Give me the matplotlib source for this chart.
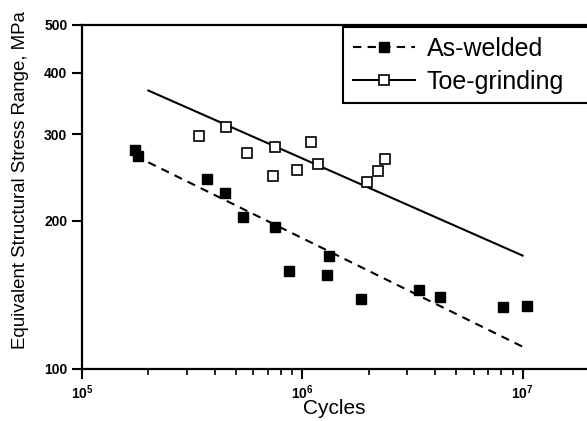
import numpy as np
import matplotlib
matplotlib.use("Agg")
import matplotlib.pyplot as plt
from matplotlib.ticker import FixedLocator, NullLocator, NullFormatter, LogFormatterMathtext

plt.rcParams["font.family"] = ["Liberation Sans", "DejaVu Sans"]

# ---- data ----
# as-welded test results (cycles, stress range MPa)
aw_cycles = [1.74e5, 1.79e5, 3.69e5, 4.48e5, 5.36e5, 7.51e5, 8.70e5,
             1.32e6, 1.30e6, 1.84e6, 3.38e6, 4.23e6, 8.17e6, 1.05e7]
aw_stress = [279, 271, 243, 228, 204, 194, 158,
             170, 155, 139, 145, 140, 133.5, 134]

# toe-grinding test results
tg_cycles = [3.39e5, 4.51e5, 5.62e5, 7.51e5, 7.36e5, 9.46e5,
             1.10e6, 1.18e6, 1.97e6, 2.21e6, 2.38e6]
tg_stress = [297, 310, 275, 283, 247, 254,
             289, 261, 240, 253, 267]

# fitted S-N curves (end points)
fit_cycles = [2.0e5, 1.0e7]
aw_fit = [263, 111]
tg_fit = [368, 170]

y_ticks = [100, 200, 300, 400, 500]

# ---- plot ----
fig = plt.figure(figsize=(5.87, 4.21), dpi=100)
ax = fig.add_axes([82 / 587, 52 / 421, 505 / 587, 344 / 421])

ax.plot(fit_cycles, aw_fit, color="black", lw=1.5, ls=(0, (4, 3)))
ax.plot(fit_cycles, tg_fit, color="black", lw=1.5)
ax.plot(aw_cycles, aw_stress, ls="none", marker="s", ms=6.5,
        mfc="black", mec="black")
ax.plot(tg_cycles, tg_stress, ls="none", marker="s", ms=6.5,
        mfc="white", mec="black", mew=1.2)

# legend proxies
h1, = ax.plot([], [], color="black", lw=1.5, ls=(0, (4, 3)), marker="s",
              ms=6.5, mfc="black", mec="black")
h2, = ax.plot([], [], color="black", lw=1.5, marker="s", ms=6.5,
              mfc="white", mec="black", mew=1.2)

ax.set_xscale("log")
ax.set_yscale("log")
ax.set_xlim(1e5, 1.96e7)
ax.set_ylim(100, 500)

ax.yaxis.set_major_locator(FixedLocator(y_ticks))
ax.yaxis.set_minor_locator(NullLocator())
ax.yaxis.set_major_formatter(plt.FixedFormatter([str(v) for v in y_ticks]))
ax.yaxis.set_minor_formatter(NullFormatter())
ax.xaxis.set_major_formatter(LogFormatterMathtext())

ax.tick_params(axis="both", which="major", direction="out", length=7, width=1.5,
               labelsize=10)
ax.tick_params(axis="x", which="minor", direction="out", length=4, width=1.2)
for lab in ax.get_yticklabels():
    lab.set_fontweight("bold")
for lab in ax.get_xticklabels():
    lab.set_fontweight("bold")

for side in ["left", "bottom", "top"]:
    ax.spines[side].set_linewidth(1.6)
ax.spines["right"].set_visible(False)

ax.set_xlabel("Cycles", fontsize=15, labelpad=-2)
ax.set_ylabel("Equivalent Structural Stress Range, MPa", fontsize=13.4)
ax.yaxis.set_label_coords(-0.105, 0.55)

# legend box runs past the right edge of the picture, as in the scan
leg = fig.legend([h1, h2], ["As-welded", "Toe-grinding"], loc="upper left",
                 bbox_to_anchor=(343 / 587, 0, 262 / 587, 1 - 27 / 421),
                 bbox_transform=fig.transFigure, mode="expand",
                 borderaxespad=0, fontsize=18, handlelength=2.48,
                 handletextpad=0.48, labelspacing=0.36, borderpad=0.38,
                 fancybox=False, framealpha=1)
leg.get_frame().set_edgecolor("black")
leg.get_frame().set_linewidth(1.5)

fig.savefig("out.png", dpi=100)
